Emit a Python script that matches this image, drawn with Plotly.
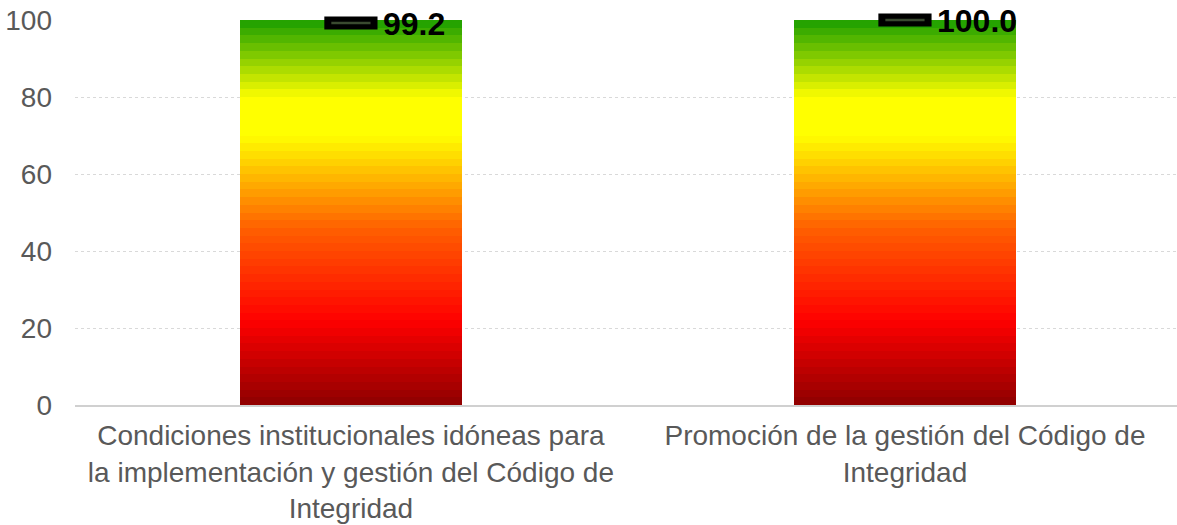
import plotly.graph_objects as go
from plotly.colors import sample_colorscale

# ---- data ----
categories = [
    "Condiciones institucionales idóneas para<br>la implementación y gestión del Código de<br>Integridad",
    "Promoción de la gestión del Código de<br>Integridad",
]
values = [99.2, 100.0]
scale_max = 100
y_ticks = [0, 20, 40, 60, 80, 100]

# ---- styling of the gradient scale bar ----
gradient = [
    [0.00, "#8E0000"],
    [0.22, "#FF0000"],
    [0.46, "#FF6000"],
    [0.70, "#FFFF00"],
    [0.805, "#FFFF00"],
    [0.81, "#F0F800"],
    [1.00, "#1A9E00"],
]
n_bands = 50
band = scale_max / n_bands
band_colors = sample_colorscale(gradient, [(i + 0.5) / n_bands for i in range(n_bands)])

FONT = "Arial, Liberation Sans, sans-serif"

fig = go.Figure()
for i in range(n_bands):
    fig.add_trace(go.Bar(
        x=categories, y=[band] * len(categories),
        marker=dict(color=band_colors[i], line=dict(width=0)),
        width=0.4, showlegend=False, hoverinfo="skip",
    ))

# marker: black dash with a thin inner line
fig.add_trace(go.Scatter(
    x=categories, y=values, mode="markers",
    marker=dict(symbol="line-ew", size=38, color="black",
                line=dict(width=13, color="black")),
    showlegend=False, cliponaxis=False,
))
fig.add_trace(go.Scatter(
    x=categories, y=values, mode="markers",
    marker=dict(symbol="line-ew", size=28, color="#3a4a30",
                line=dict(width=2.5, color="#3a4a30")),
    showlegend=False, cliponaxis=False, hoverinfo="skip",
))

for c, v in zip(categories, values):
    fig.add_annotation(
        x=c, y=v, text=f"{v:.1f}", showarrow=False,
        xanchor="left", yanchor="middle", xshift=30, yshift=-1,
        font=dict(family=FONT, size=32, color="black", weight="bold"),
    )

fig.update_layout(
    width=1177, height=525,
    barmode="stack", bargap=0.6,
    plot_bgcolor="white", paper_bgcolor="white",
    margin=dict(l=75, r=0, t=20, b=120),
    font=dict(family=FONT, color="#595959", size=28),
    xaxis=dict(
        type="category", range=[-0.498, 1.491],
        showgrid=False, showline=True, linecolor="#D0D0D0", linewidth=1.5,
        ticks="", ticklabelstandoff=5,
        tickfont=dict(size=28, color="#595959"),
    ),
    yaxis=dict(
        range=[0, scale_max], tickvals=y_ticks,
        showgrid=True, gridcolor="#D9D9D9", gridwidth=1, griddash="dot",
        zeroline=False, showline=False, ticks="",
        ticklabelstandoff=22,
        tickfont=dict(size=28, color="#595959"),
    ),
)

fig.write_html("out.html", config={"displayModeBar": False},
               post_script="document.body.style.margin='0';")
